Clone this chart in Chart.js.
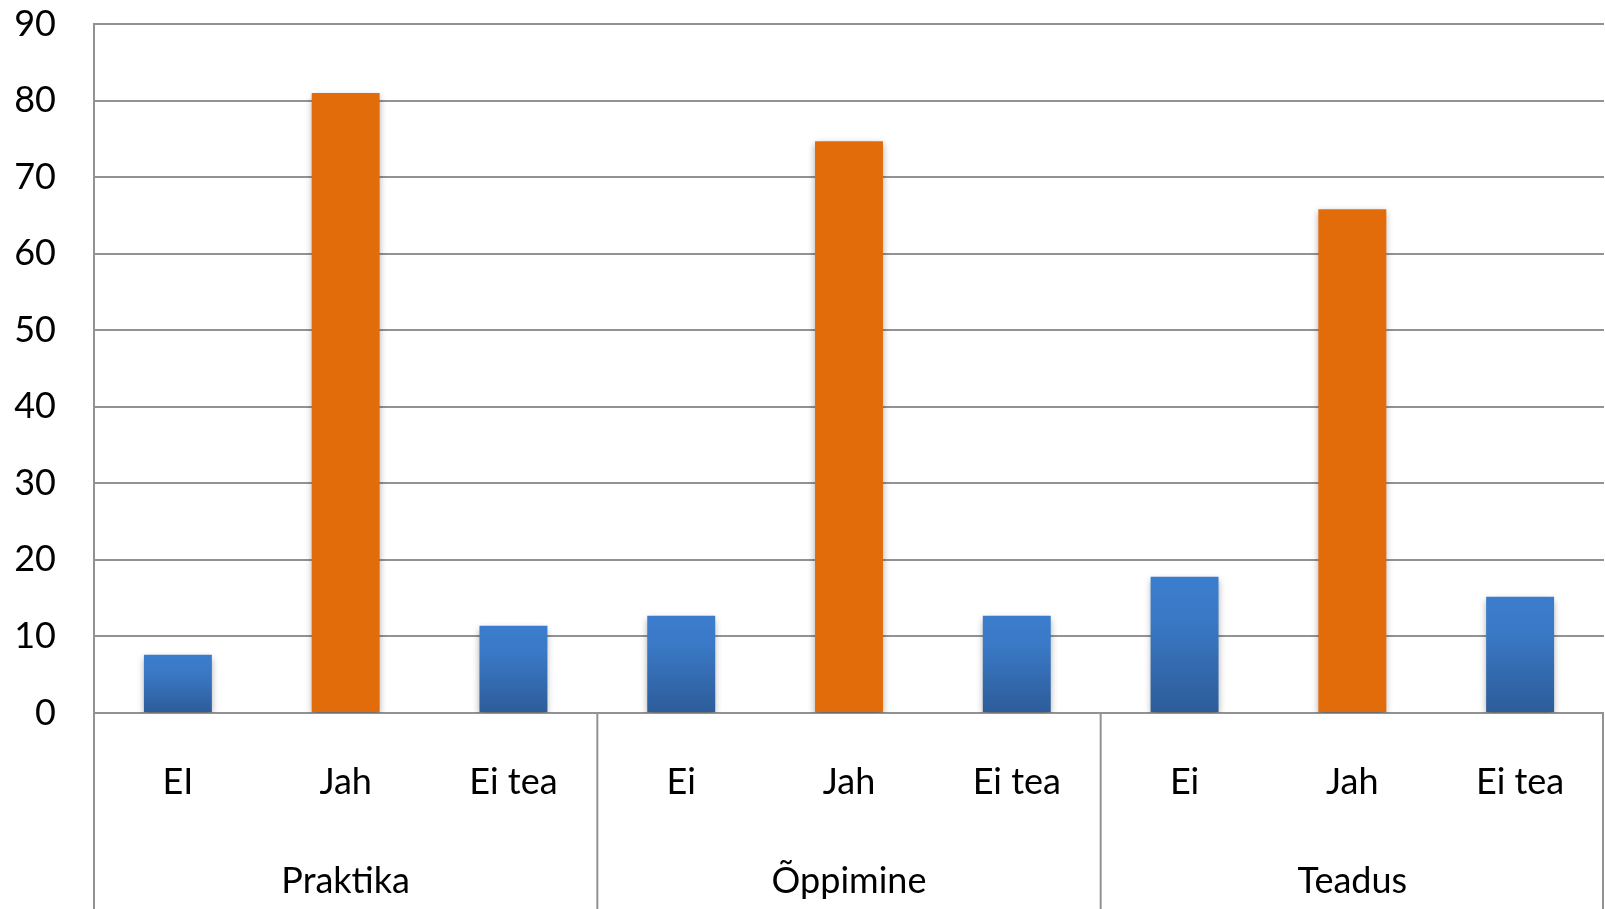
<!DOCTYPE html>
<html>
<head>
<meta charset="utf-8">
<script src="https://cdn.jsdelivr.net/npm/chart.js@4"></script>
<style>
  html, body { margin: 0; padding: 0; background: #fff; }
  #wrap { width: 1605px; height: 909px; }
</style>
</head>
<body>
<div id="wrap"><canvas id="mycanvas"></canvas></div>
<script>
var groups = ['Praktika', 'Õppimine', 'Teadus'];
var answers = [['EI', 'Jah', 'Ei tea'], ['Ei', 'Jah', 'Ei tea'], ['Ei', 'Jah', 'Ei tea']];
var praktika = [7.6, 81.0, 11.4];
var oppimine = [12.7, 74.7, 12.7];
var teadus = [17.8, 65.8, 15.2];
var yTicks = [0, 10, 20, 30, 40, 50, 60, 70, 80, 90];

var labels = [];
var values = [];
var series = [praktika, oppimine, teadus];
for (var g = 0; g < groups.length; g++) {
    for (var k = 0; k < answers[g].length; k++) {
        labels.push(answers[g][k]);
        values.push(series[g][k]);
    }
}

var font = "Lato, 'Open Sans', sans-serif";
var fontSize = 36;
var lineColor = '#929292';

function barColor(ctx) {
    if (labels[ctx.dataIndex] === 'Jah') return '#e36c0a';
    var chart = ctx.chart;
    if (!chart.chartArea || !chart.scales.y) return '#3670b8';
    var y = chart.scales.y;
    var top = y.getPixelForValue(ctx.raw);
    var bottom = y.getPixelForValue(0);
    var grad = chart.ctx.createLinearGradient(0, top, 0, bottom);
    grad.addColorStop(0, '#3b7dcd');
    grad.addColorStop(0.3, '#3a79c6');
    grad.addColorStop(1, '#2d5c99');
    return grad;
}

var shadowPlugin = {
    id: 'shadow',
    beforeDatasetDraw: function(chart) {
        var c = chart.ctx;
        c.save();
        c.shadowColor = 'rgba(0,0,0,0.35)';
        c.shadowBlur = 7;
        c.shadowOffsetX = 0;
        c.shadowOffsetY = 3;
    },
    afterDatasetDraw: function(chart) {
        chart.ctx.restore();
    }
};

var groupPlugin = {
    id: 'groups',
    afterDraw: function(chart) {
        var c = chart.ctx;
        var x = chart.scales.x;
        var area = chart.chartArea;
        var slot = (x.getPixelForValue(1) - x.getPixelForValue(0));
        c.save();
        c.strokeStyle = lineColor;
        c.lineWidth = 2;
        var idx = 0;
        for (var g = 0; g < groups.length; g++) {
            var n = answers[g].length;
            var left = x.getPixelForValue(idx) - slot / 2;
            var right = x.getPixelForValue(idx + n - 1) + slot / 2;
            c.beginPath();
            c.moveTo(left, area.bottom);
            c.lineTo(left, chart.height);
            c.stroke();
            if (g === groups.length - 1) {
                c.beginPath();
                c.moveTo(right - 1, area.bottom);
                c.lineTo(right - 1, chart.height);
                c.stroke();
            }
            c.fillStyle = '#000';
            c.font = fontSize + 'px ' + font;
            c.textAlign = 'center';
            c.textBaseline = 'middle';
            c.fillText(groups[g], (left + right) / 2, 881);
            idx += n;
        }
        c.restore();
    }
};

var ctx = document.getElementById('mycanvas');
var barGraph = new Chart(ctx, {
    type: 'bar',
    data: {
        labels: labels,
        datasets: [{
            label: 'Vastused',
            data: values,
            backgroundColor: barColor,
            borderWidth: 0,
            barPercentage: 0.405,
            categoryPercentage: 1.0
        }]
    },
    options: {
        responsive: true,
        maintainAspectRatio: false,
        animation: false,
        layout: { padding: { top: 24, right: 1, left: 0, bottom: 0 } },
        plugins: {
            legend: { display: false },
            tooltip: { enabled: false }
        },
        scales: {
            x: {
                grid: { display: false },
                border: { display: false },
                ticks: {
                    color: '#000',
                    font: { family: font, size: fontSize },
                    padding: 40,
                    maxRotation: 0
                },
                afterFit: function(scale) {
                    scale.height = 196;
                    scale.paddingLeft = 0;
                    scale.paddingRight = 0;
                }
            },
            y: {
                min: 0,
                max: 90,
                afterBuildTicks: function(scale) {
                    scale.ticks = yTicks.map(function(v) { return { value: v }; });
                },
                grid: { color: lineColor, lineWidth: 2, drawTicks: false },
                border: { color: lineColor, width: 2 },
                ticks: {
                    color: '#000',
                    font: { family: font, size: fontSize },
                    padding: 38
                },
                afterFit: function(scale) {
                    scale.width = 94;
                    scale.paddingTop = 0;
                    scale.paddingBottom = 0;
                }
            }
        }
    },
    plugins: [shadowPlugin, groupPlugin]
});
</script>
</body>
</html>
